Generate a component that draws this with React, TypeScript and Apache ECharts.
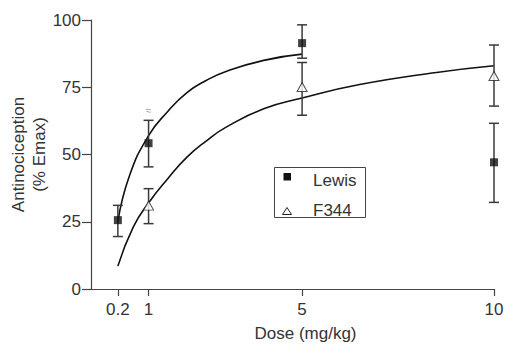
import React, { useEffect, useRef } from "react";
import * as echarts from "echarts";

// Observed data (mean and error-bar ends, % Emax)
const lewisDose = [0.2, 1, 5, 10];
const lewisMean = [25.6, 54.2, 91.4, 47.1];
const lewisLow = [19.5, 45.4, 85.8, 32.2];
const lewisHigh = [31.1, 62.7, 98.2, 61.6];

const f344Dose = [1, 5, 10];
const f344Mean = [31.0, 75.1, 79.2];
const f344Low = [24.3, 64.6, 68.0];
const f344High = [37.3, 84.2, 90.7];

// Fitted curves
const lewisFitDose = [0.2, 0.5, 1, 1.5, 2, 2.5, 3, 4, 5];
const lewisFitValue = [25, 42, 57, 66, 73, 77.5, 80.8, 85, 87.3];
const f344FitDose = [0.2, 0.6, 1, 1.5, 2, 2.5, 3, 4, 5, 6.5, 8.5, 10];
const f344FitValue = [8.5, 23, 32, 41, 49, 55, 60, 67, 71, 76, 80.5, 83];

// Axis ticks
const xTicks = [0.2, 1, 5, 10];
const yTicks = [0, 25, 50, 75, 100];

// Significance mark above Lewis at dose 1
const markDose = [1];
const markValue = [66.2];

const FONT = "'Liberation Sans', Arial, Helvetica, sans-serif";
const TEXT = "#333";

export default function App() {
  const ref = useRef<HTMLDivElement>(null);

  useEffect(() => {
    document.body.style.margin = "0";
    if (!ref.current) return;
    const chart = echarts.init(ref.current, undefined, { renderer: "svg" });

    const errRender = (params: any, api: any) => {
      const x = api.value(0);
      const lo = api.value(1);
      const hi = api.value(2);
      const pLo = api.coord([x, lo]);
      const pHi = api.coord([x, hi]);
      const hw = 5;
      const st = { stroke: "#3a3a3a", lineWidth: 1.5 };
      return {
        type: "group",
        children: [
          { type: "line", shape: { x1: pLo[0], y1: pLo[1], x2: pHi[0], y2: pHi[1] }, style: st },
          { type: "line", shape: { x1: pLo[0] - hw, y1: pLo[1], x2: pLo[0] + hw, y2: pLo[1] }, style: st },
          { type: "line", shape: { x1: pHi[0] - hw, y1: pHi[1], x2: pHi[0] + hw, y2: pHi[1] }, style: st },
        ],
      };
    };

    const option: any = {
      animation: false,
      textStyle: { fontFamily: FONT },
      grid: { left: 91, right: 12, top: 20, bottom: 55, containLabel: false, outerBoundsMode: "none" },
      xAxis: {
        type: "value",
        min: -0.5,
        max: 10,
        name: "Dose (mg/kg)",
        nameLocation: "middle",
        nameGap: 36,
        nameMoveOverlap: false,
        nameTextStyle: { fontSize: 17, color: TEXT, fontFamily: FONT, padding: [0, 0, 0, 26] },
        axisLine: { onZero: false, lineStyle: { color: "#444", width: 1.2 } },
        axisTick: { show: true, length: 7, customValues: xTicks, lineStyle: { color: "#444", width: 1.2 } },
        axisLabel: { customValues: xTicks, fontSize: 17, color: TEXT, margin: 12, fontFamily: FONT },
        splitLine: { show: false },
      },
      yAxis: {
        type: "value",
        min: 0,
        max: 100,
        interval: 25,
        name: "Antinociception\n(% Emax)",
        nameLocation: "middle",
        nameGap: 41,
        nameMoveOverlap: false,
        nameTextStyle: { fontSize: 17, color: TEXT, fontFamily: FONT, lineHeight: 21 },
        axisLine: { show: true, onZero: false, lineStyle: { color: "#444", width: 1.2 } },
        axisTick: { show: true, length: 9, customValues: yTicks, lineStyle: { color: "#444", width: 1.2 } },
        axisLabel: { customValues: yTicks, fontSize: 17, color: TEXT, margin: 10, fontFamily: FONT },
        splitLine: { show: false },
      },
      series: [
        {
          type: "line",
          data: lewisFitDose.map((d, i) => [d, lewisFitValue[i]]),
          smooth: 0.5,
          symbol: "none",
          lineStyle: { color: "#111", width: 1.6 },
          z: 1,
        },
        {
          type: "line",
          data: f344FitDose.map((d, i) => [d, f344FitValue[i]]),
          smooth: 0.5,
          symbol: "none",
          lineStyle: { color: "#111", width: 1.6 },
          z: 1,
        },
        {
          type: "custom",
          renderItem: errRender,
          data: lewisDose.map((d, i) => [d, lewisLow[i], lewisHigh[i]]),
          z: 2,
        },
        {
          type: "custom",
          renderItem: errRender,
          data: f344Dose.map((d, i) => [d, f344Low[i], f344High[i]]),
          z: 2,
        },
        {
          type: "scatter",
          name: "Lewis",
          data: lewisDose.map((d, i) => [d, lewisMean[i]]),
          symbol: "rect",
          symbolSize: 8,
          itemStyle: { color: "#111" },
          z: 3,
        },
        {
          type: "scatter",
          name: "F344",
          data: f344Dose.map((d, i) => [d, f344Mean[i]]),
          symbol: "triangle",
          symbolSize: [10, 9],
          itemStyle: { color: "#fff", borderColor: "#222", borderWidth: 1 },
          z: 3,
        },
        {
          type: "scatter",
          data: markDose.map((d, i) => [d, markValue[i]]),
          symbolSize: 0,
          label: {
            show: true,
            position: "inside",
            formatter: "≈",
            fontSize: 10,
            color: "#777",
            fontFamily: FONT,
          },
          z: 3,
        },
      ],
      graphic: [
        {
          type: "rect",
          shape: { x: 274.5, y: 167.5, width: 91, height: 50 },
          style: { fill: "#fff", stroke: "#444", lineWidth: 1 },
          z: 10,
        },
        {
          type: "rect",
          shape: { x: 283.5, y: 173, width: 7.5, height: 7.5 },
          style: { fill: "#111" },
          z: 11,
        },
        {
          type: "polygon",
          shape: { points: [[287, 207.5], [291.5, 214.5], [282.5, 214.5]] },
          style: { fill: "#fff", stroke: "#222", lineWidth: 1 },
          z: 11,
        },
        {
          type: "text",
          x: 313,
          y: 180,
          style: { text: "Lewis", fontSize: 17, fill: TEXT, fontFamily: FONT, verticalAlign: "middle" },
          z: 11,
        },
        {
          type: "text",
          x: 313,
          y: 210,
          style: { text: "F344", fontSize: 17, fill: TEXT, fontFamily: FONT, verticalAlign: "middle" },
          z: 11,
        },
      ],
    };

    chart.setOption(option);
    return () => chart.dispose();
  }, []);

  return <div ref={ref} style={{ width: 506, height: 344 }} />;
}
